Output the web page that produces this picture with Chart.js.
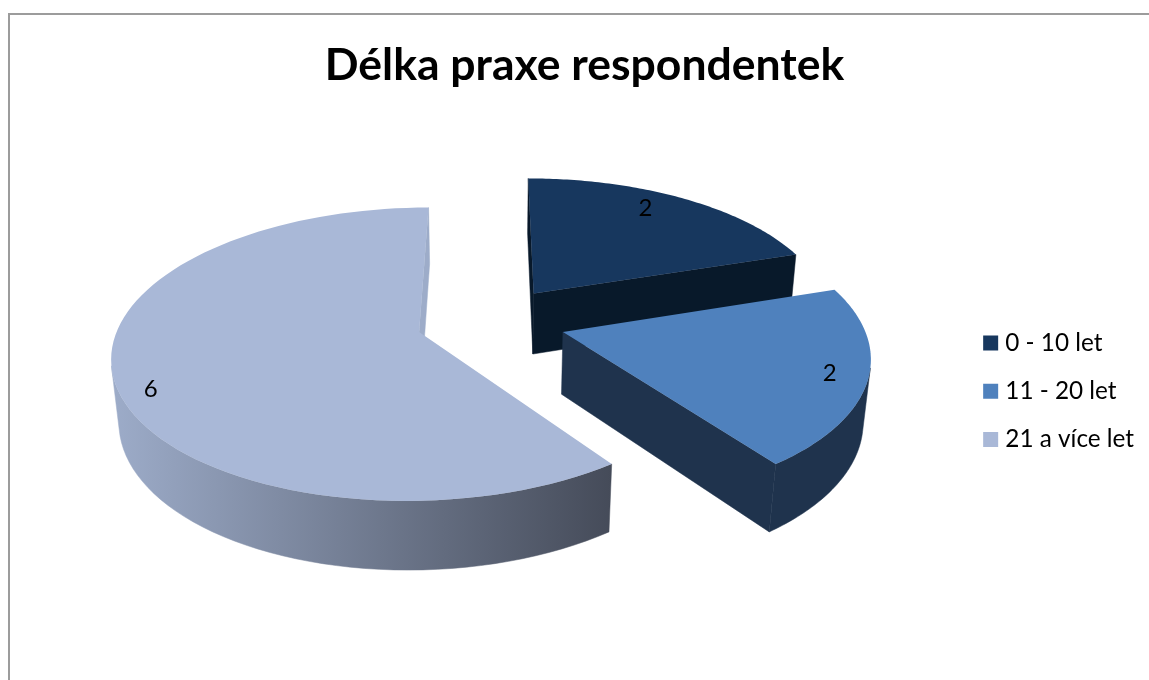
<!DOCTYPE html>
<html>
<head>
<meta charset="utf-8">
<title>Délka praxe respondentek</title>
<script src="https://cdn.jsdelivr.net/npm/chart.js@4"></script>
<style>
    body { margin: 0; background: #fff; overflow: hidden; }
    #frame { position: absolute; left: 8px; top: 13px; width: 1200px; height: 700px; border: 2px solid #9c9c9c; }
    canvas { position: absolute; left: 0; top: 0; }
</style>
</head>
<body>
<div id="frame"></div>
<canvas id="graf" width="1149" height="680"></canvas>
<script>
const kategorie = ['0 - 10 let', '11 - 20 let', '21 a více let'];
const hodnoty = [2, 2, 6];
const barvy = ['#17375e', '#4f81bd', '#a9b8d7'];
const barvyBoku = [['#08192a', '#08192a'], ['#1f334d', '#1f334d'], ['#9dacc9', '#454b59']];
const vysunuti = [0.25, 0.25, 0.25];
const popiskyPolomer = [0.842, 0.88, 0.905];
const popiskyPootoceni = [-4.4, 0.4, -6.7];

// pie plane -> screen, h goes 0 (top face) to 1 (bottom face)
const pohled = { cx: 491, cy: 321, b: 299, a: 140, vyska: 63, p: 0.15, s: 0, q: 0.02 };

function promitni(x, y, h) {
    const v = pohled;
    const d = 1 - v.p * y + v.s * x + v.q * h;
    return [v.cx + v.b * x / d, v.cy + (v.a * y + v.vyska * h) / d];
}

function bodVysece(el, uhel, r) {
    const stred = (el.startAngle + el.endAngle) / 2;
    const sx = Math.cos(stred) * el.options.offset;
    const sy = Math.sin(stred) * el.options.offset;
    return [sx + Math.cos(uhel) * r, sy + Math.sin(uhel) * r];
}

function cesta(ctx, body) {
    ctx.beginPath();
    body.forEach((b, i) => i ? ctx.lineTo(b[0], b[1]) : ctx.moveTo(b[0], b[1]));
    ctx.closePath();
}

function jeVidet(p1, p2) {
    const a = promitni(p1[0], p1[1], 0), b = promitni(p2[0], p2[1], 0);
    const c = promitni(p2[0], p2[1], 1), d = promitni(p1[0], p1[1], 1);
    const q = [a, b, c, d];
    let plocha = 0;
    for (let i = 0; i < 4; i++) {
        const n = q[(i + 1) % 4];
        plocha += q[i][0] * n[1] - n[0] * q[i][1];
    }
    return plocha < 0;
}

function stena(ctx, rada, vypln) {
    const horni = rada.map(b => promitni(b[0], b[1], 0));
    const dolni = rada.map(b => promitni(b[0], b[1], 1)).reverse();
    cesta(ctx, horni.concat(dolni));
    ctx.fillStyle = vypln;
    ctx.strokeStyle = vypln;
    ctx.lineWidth = 0.5;
    ctx.fill();
    ctx.stroke();
}

function kresliVysec(ctx, el, i) {
    const kroky = 90;
    const oblouk = [];
    for (let k = 0; k <= kroky; k++) {
        oblouk.push(bodVysece(el, el.startAngle + (el.endAngle - el.startAngle) * k / kroky, 1));
    }
    const vrchol = bodVysece(el, el.startAngle, 0);

    // shading of the sides runs across the slice from left to right
    const xs = oblouk.map(b => promitni(b[0], b[1], 0)[0]);
    const gradient = ctx.createLinearGradient(Math.min(...xs), 0, Math.max(...xs), 0);
    gradient.addColorStop(0, barvyBoku[i][0]);
    gradient.addColorStop(1, barvyBoku[i][1]);

    const konec = oblouk[kroky];
    if (jeVidet(vrchol, oblouk[0])) stena(ctx, [vrchol, oblouk[0]], i === 2 ? '#8b99b5' : barvyBoku[i][0]);
    if (jeVidet(konec, vrchol)) stena(ctx, [konec, vrchol], barvyBoku[i][0]);

    let rada = [];
    for (let k = 0; k < kroky; k++) {
        if (jeVidet(oblouk[k], oblouk[k + 1])) {
            if (!rada.length) rada.push(oblouk[k]);
            rada.push(oblouk[k + 1]);
        } else if (rada.length) {
            stena(ctx, rada, gradient);
            rada = [];
        }
    }
    if (rada.length) stena(ctx, rada, gradient);

    cesta(ctx, [vrchol].concat(oblouk).map(b => promitni(b[0], b[1], 0)));
    ctx.fillStyle = el.options.backgroundColor;
    ctx.fill();
}

const vysecePlugin = {
    id: 'vysece3d',
    beforeDatasetsDraw(chart) {
        const ctx = chart.ctx;
        const oblouky = chart.getDatasetMeta(0).data;
        ctx.save();
        oblouky.forEach((el, i) => kresliVysec(ctx, el, i));

        ctx.fillStyle = '#000';
        ctx.font = '24px Lato';
        ctx.textAlign = 'center';
        ctx.textBaseline = 'middle';
        oblouky.forEach((el, i) => {
            const stred = (el.startAngle + el.endAngle) / 2 + popiskyPootoceni[i] * Math.PI / 180;
            const b = bodVysece(el, stred, popiskyPolomer[i]);
            const s = promitni(b[0], b[1], 0);
            ctx.fillText(String(hodnoty[i]), s[0], s[1]);
        });
        ctx.restore();
        return false;
    }
};

new Chart(document.getElementById('graf').getContext('2d'), {
    type: 'pie',
    data: {
        labels: kategorie,
        datasets: [{
            data: hodnoty,
            backgroundColor: barvy,
            borderWidth: 0,
            offset: vysunuti
        }]
    },
    options: {
        responsive: false,
        animation: false,
        layout: { padding: { left: 25, right: 5 } },
        plugins: {
            title: {
                display: true,
                text: 'Délka praxe respondentek',
                color: '#000',
                font: { family: 'Lato', size: 44.5, weight: 'bold' },
                padding: { top: 39, bottom: 10 }
            },
            legend: {
                position: 'right',
                fullSize: false,
                labels: {
                    // narrow slot with a full height rect keeps the text close to the box
                    usePointStyle: true,
                    pointStyle: 'rect',
                    boxWidth: 5,
                    boxHeight: 15,
                    padding: 24,
                    color: '#000',
                    font: { family: 'Lato', size: 24.3 }
                }
            },
            tooltip: { enabled: false }
        }
    },
    plugins: [vysecePlugin]
});
</script>
</body>
</html>
